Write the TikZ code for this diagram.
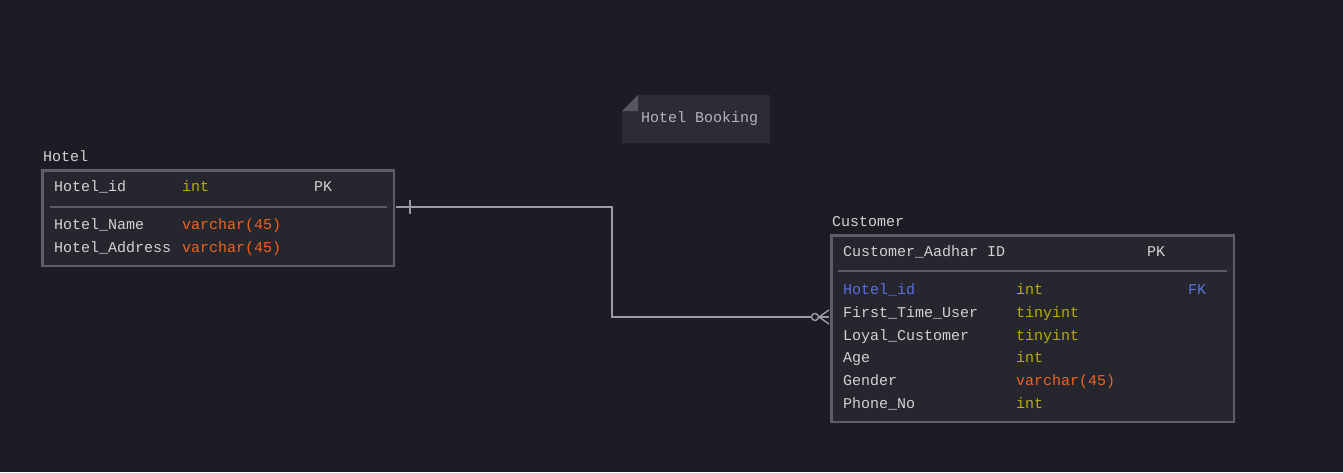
\documentclass[tikz,border=0pt]{standalone}
\usepackage{fontspec}
\setmonofont{Liberation Mono}
\usetikzlibrary{calc,positioning}

\definecolor{canvas}{HTML}{1C1C24}
\definecolor{tableFill}{HTML}{25262E}
\definecolor{tableBorder}{HTML}{5E5E68}
\definecolor{ruleGray}{HTML}{5C5C64}
\definecolor{fieldText}{HTML}{D2D2D4}
\definecolor{typeInt}{HTML}{B8AE0A}
\definecolor{typeChar}{HTML}{F0631E}
\definecolor{keyBlue}{HTML}{5B6EE1}
\definecolor{linkGray}{HTML}{9C9CA4}
\definecolor{noteFill}{HTML}{2C2C34}
\definecolor{noteFold}{HTML}{56565E}
\definecolor{noteText}{HTML}{B4B4BC}

\newcommand{\erfont}{\ttfamily\fontsize{15}{18}\selectfont}

\begin{document}
\begin{tikzpicture}[x=1pt,y=-1pt,
    table/.style={draw=tableBorder,line width=2.5pt,fill=tableFill,rectangle,inner sep=0pt,anchor=north west},
    field/.style={anchor=base west,inner sep=0pt,text=fieldText,font=\erfont},
    intType/.style={field,text=typeInt},
    charType/.style={field,text=typeChar},
    fkey/.style={field,text=keyBlue},
    rowrule/.style={draw=ruleGray,line width=1.2pt},
    link/.style={draw=linkGray,line width=1.4pt}
    ]

  \fill[canvas] (0,0) rectangle (1343,472);
  \useasboundingbox (0,0) rectangle (1343,472);

  % note
  \fill[noteFill] (622,111) -- (638,95) -- (770,95) -- (770,143) -- (622,143) -- cycle;
  \fill[noteFold] (622,111) -- (638,95) -- (638,111) -- cycle;
  \node(noteName) [field,text=noteText] at (641,122) {Hotel Booking};

  % Hotel table
  \node(hotel) [table,minimum width=351.5pt,minimum height=95.5pt] at (41,169) {};
  \node(hotelName) [field] at (43,161) {Hotel};
  \draw[rowrule] (50,207) -- (387,207);
  \node(hId) [field] at (54,191) {Hotel\_id};
  \node(hIdType) [intType] at (182,191) {int};
  \node(hIdKey) [field] at (314,191) {PK};
  \node(hName) [field] at (54,229) {Hotel\_Name};
  \node(hNameType) [charType] at (182,229) {varchar(45)};
  \node(hAddr) [field] at (54,252) {Hotel\_Address};
  \node(hAddrType) [charType] at (182,252) {varchar(45)};

  % Customer table
  \node(customer) [table,minimum width=402.5pt,minimum height=186.5pt] at (830,234) {};
  \node(customerName) [field] at (832,226) {Customer};
  \draw[rowrule] (838,271) -- (1227,271);
  \node(cId) [field] at (843,256) {Customer\_Aadhar ID};
  \node(cIdKey) [field] at (1147,256) {PK};
  \node(cHotel) [fkey] at (843,294.5) {Hotel\_id};
  \node(cHotelType) [intType] at (1016,294.5) {int};
  \node(cHotelKey) [fkey] at (1188,294.5) {FK};
  \node(cFirst) [field] at (843,317.3) {First\_Time\_User};
  \node(cFirstType) [intType] at (1016,317.3) {tinyint};
  \node(cLoyal) [field] at (843,340.1) {Loyal\_Customer};
  \node(cLoyalType) [intType] at (1016,340.1) {tinyint};
  \node(cAge) [field] at (843,362.9) {Age};
  \node(cAgeType) [intType] at (1016,362.9) {int};
  \node(cGender) [field] at (843,385.7) {Gender};
  \node(cGenderType) [charType] at (1016,385.7) {varchar(45)};
  \node(cPhone) [field] at (843,408.5) {Phone\_No};
  \node(cPhoneType) [intType] at (1016,408.5) {int};

  % relation
  \coordinate(hotelPort) at (396,207);
  \coordinate(customerPort) at (829,317);
  \coordinate(bend) at (612,207);
  \draw[link] (hotelPort) -- (bend) |- (customerPort);
  \draw[link] ($(hotelPort)+(14,-7)$) -- ++(0,14);
  \draw[link] ($(customerPort)+(-10,0)$) -- ++(10,-7);
  \draw[link] ($(customerPort)+(-10,0)$) -- ++(10,7);
  \draw[link,fill=canvas] ($(customerPort)+(-14,0)$) circle (3.5pt);

\end{tikzpicture}
\end{document}
